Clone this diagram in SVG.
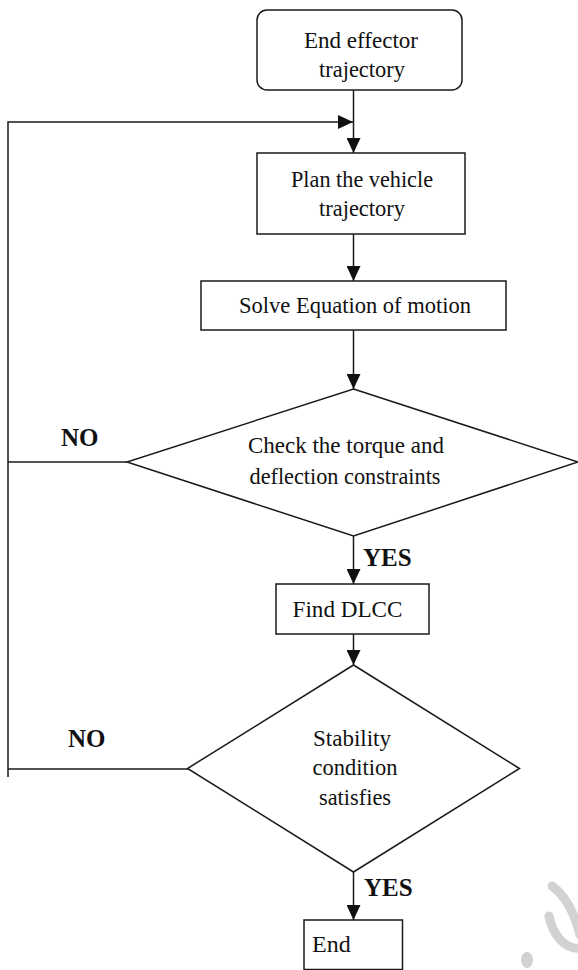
<svg xmlns="http://www.w3.org/2000/svg" width="578" height="970" viewBox="0 0 578 970">
<defs>
<marker id="arr" markerUnits="userSpaceOnUse" markerWidth="15" markerHeight="14" refX="15" refY="7" orient="auto">
<path d="M0,0 L15,7 L0,14 z" fill="#111"/>
</marker>
<style>
.box{fill:#fff;stroke:#1a1a1a;stroke-width:1.5}
.t{font-family:"Liberation Serif","Times New Roman",serif;font-size:24px;fill:#111}
.c{text-anchor:middle}
.lb{font-family:"Liberation Serif","Times New Roman",serif;font-size:25px;font-weight:bold;fill:#111}
.ln{fill:none;stroke:#1a1a1a;stroke-width:1.5}
.wm{fill:none;stroke:#d2d2d2;stroke-width:9;stroke-linecap:round}
</style>
</defs>
<rect width="578" height="970" fill="#fff"/>
<g id="watermark">
<path class="wm" d="M552,886 C566,896 575,915 580,935"/>
<path class="wm" d="M580,948 C566,950 553,936 549,916"/>
<ellipse cx="527" cy="960" rx="6" ry="8" fill="#d2d2d2"/>
</g>
<g id="connectors">
<path class="ln" d="M353.5,90 V153" marker-end="url(#arr)"/>
<path class="ln" d="M8,777 V122 H353" marker-end="url(#arr)"/>
<path class="ln" d="M127,462 H8"/>
<path class="ln" d="M188,769 H8"/>
<path class="ln" d="M353.5,234 V281" marker-end="url(#arr)"/>
<path class="ln" d="M353.5,330 V389" marker-end="url(#arr)"/>
<path class="ln" d="M353.5,536 V584" marker-end="url(#arr)"/>
<path class="ln" d="M353.5,634 V665" marker-end="url(#arr)"/>
<path class="ln" d="M353.5,872 V920" marker-end="url(#arr)"/>
<text class="lb" x="61" y="446">NO</text>
<text class="lb" x="68" y="747">NO</text>
<text class="lb" x="363" y="566">YES</text>
<text class="lb" x="364" y="896">YES</text>
</g>
<g id="start">
<rect class="box" x="257" y="10" width="205" height="80" rx="10" ry="10"/>
<text class="t c" x="361" y="48" textLength="114" lengthAdjust="spacingAndGlyphs">End effector</text>
<text class="t c" x="362" y="77" textLength="86" lengthAdjust="spacingAndGlyphs">trajectory</text>
</g>
<g id="plan">
<rect class="box" x="257" y="153" width="208" height="81"/>
<text class="t c" x="362" y="187" textLength="142" lengthAdjust="spacingAndGlyphs">Plan the vehicle</text>
<text class="t c" x="362" y="216" textLength="86" lengthAdjust="spacingAndGlyphs">trajectory</text>
</g>
<g id="solve">
<rect class="box" x="201" y="281" width="305" height="49"/>
<text class="t c" x="355" y="313" textLength="232" lengthAdjust="spacingAndGlyphs">Solve Equation of motion</text>
</g>
<g id="check">
<polygon class="box" points="353.5,389 578,462 353.5,536 127,462"/>
<text class="t c" x="346" y="453" textLength="196" lengthAdjust="spacingAndGlyphs">Check the torque and</text>
<text class="t c" x="345" y="484" textLength="191" lengthAdjust="spacingAndGlyphs">deflection constraints</text>
</g>
<g id="dlcc">
<rect class="box" x="276" y="584" width="153" height="50"/>
<text class="t" x="292.5" y="617" textLength="110" lengthAdjust="spacingAndGlyphs">Find DLCC</text>
</g>
<g id="stability">
<polygon class="box" points="353.5,665 519.5,768.5 353.5,872 187.5,768.5"/>
<text class="t c" x="352" y="746" textLength="78" lengthAdjust="spacingAndGlyphs">Stability</text>
<text class="t c" x="355" y="775" textLength="85" lengthAdjust="spacingAndGlyphs">condition</text>
<text class="t c" x="355" y="805" textLength="72" lengthAdjust="spacingAndGlyphs">satisfies</text>
</g>
<g id="end">
<rect class="box" x="304" y="920" width="98.5" height="49.5"/>
<text class="t" x="312" y="952">End</text>
</g>
</svg>
